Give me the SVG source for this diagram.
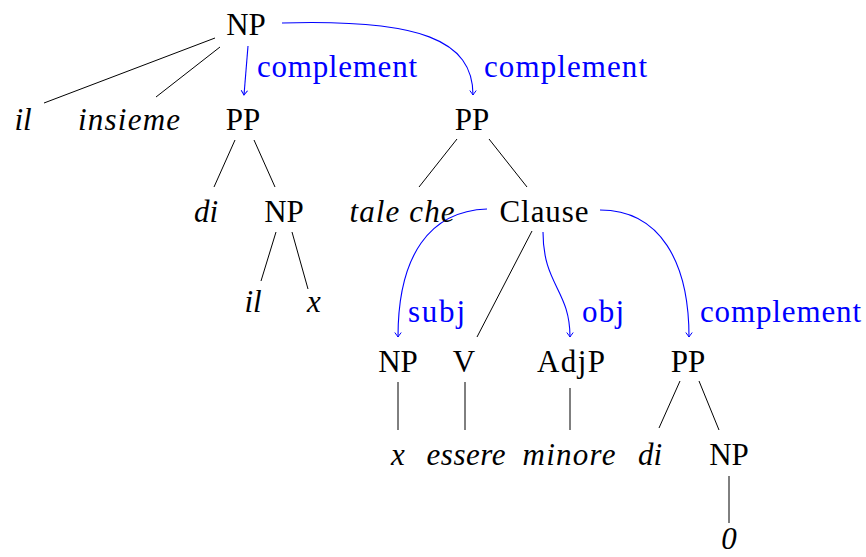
<svg xmlns="http://www.w3.org/2000/svg" width="866" height="557" viewBox="0 0 866 557">
<defs>
<style>
text{font-family:"Liberation Serif","DejaVu Serif",serif;font-size:31px;fill:#000}
.i{font-style:italic}
.m{text-anchor:middle}
.lab{fill:#0000ff}
.e{stroke:#000;stroke-width:1;fill:none}
.a{stroke:#0000ff;stroke-width:1.1;fill:none;marker-end:url(#ah)}
</style>
<marker id="ah" viewBox="-6 -4 8 8" markerWidth="8" markerHeight="8" refX="0" refY="0" orient="auto" markerUnits="userSpaceOnUse">
<path d="M-4.5 -3.2 Q-1.2 -0.8 0 0 Q-1.2 0.8 -4.5 3.2" stroke="#0000ff" stroke-width="1" fill="none"/>
</marker>
</defs>
<rect width="866" height="557" fill="#fff"/>
<g id="connectors">
<line class="e" x1="215" y1="38" x2="44" y2="103"/>
<line class="e" x1="220" y1="47" x2="156" y2="97"/>
<line class="e" x1="235" y1="140" x2="214" y2="187"/>
<line class="e" x1="254" y1="140" x2="275" y2="187"/>
<line class="e" x1="276" y1="232" x2="261" y2="281"/>
<line class="e" x1="292" y1="232" x2="308" y2="289"/>
<line class="e" x1="457" y1="139" x2="419" y2="187"/>
<line class="e" x1="489" y1="139" x2="527" y2="187"/>
<line class="e" x1="532" y1="231" x2="477" y2="337"/>
<line class="e" x1="398" y1="382" x2="398" y2="430"/>
<line class="e" x1="465" y1="382" x2="465" y2="430"/>
<line class="e" x1="570" y1="388" x2="570" y2="430"/>
<line class="e" x1="680" y1="381" x2="659" y2="428"/>
<line class="e" x1="699" y1="381" x2="719" y2="430"/>
<line class="e" x1="729" y1="476" x2="729" y2="523"/>
<path class="a" d="M248 46 L244 95"/>
<path class="a" d="M282 23 C420 19 473 40 473 95"/>
<path class="a" d="M487 209 C430 211 398 255 398 337"/>
<path class="a" d="M543 232 C543 285 570 290 570 337"/>
<path class="a" d="M600 210 C660 210 689 262 689 337"/>
</g>
<g id="labels">
<text class="lab" x="257" y="77" textLength="160">complement</text>
<text class="lab" x="484" y="77" textLength="163">complement</text>
<text class="lab" x="408" y="322" textLength="57">subj</text>
<text class="lab" x="582" y="322" textLength="42">obj</text>
<text class="lab" x="700" y="322" textLength="161">complement</text>
</g>
<g id="n-np1"><text class="m" x="246" y="35">NP</text></g>
<g id="n-il1"><text class="m i" x="23" y="130">il</text></g>
<g id="n-insieme"><text class="m i" x="129" y="130" textLength="102">insieme</text></g>
<g id="n-pp1"><text class="m" x="243" y="130">PP</text></g>
<g id="n-pp2"><text class="m" x="472" y="130">PP</text></g>
<g id="n-di1"><text class="m i" x="206" y="222">di</text></g>
<g id="n-np2"><text class="m" x="284" y="222">NP</text></g>
<g id="n-talche"><text class="m i" x="402" y="222" textLength="105">tale che</text></g>
<g id="n-clause"><text class="m" x="544" y="222" textLength="89">Clause</text></g>
<g id="n-il2"><text class="m i" x="253" y="312">il</text></g>
<g id="n-x1"><text class="m i" x="314" y="312">x</text></g>
<g id="n-np3"><text class="m" x="398" y="372">NP</text></g>
<g id="n-v"><text class="m" x="464" y="372">V</text></g>
<g id="n-adjp"><text class="m" x="571" y="372" textLength="68">AdjP</text></g>
<g id="n-pp3"><text class="m" x="688" y="372">PP</text></g>
<g id="n-x2"><text class="m i" x="398" y="465">x</text></g>
<g id="n-essere"><text class="m i" x="466" y="465" textLength="79">essere</text></g>
<g id="n-minore"><text class="m i" x="569" y="465" textLength="93">minore</text></g>
<g id="n-di2"><text class="m i" x="650" y="465">di</text></g>
<g id="n-np4"><text class="m" x="729" y="465">NP</text></g>
<g id="n-zero"><text class="m i" x="729" y="549">0</text></g>
</svg>
